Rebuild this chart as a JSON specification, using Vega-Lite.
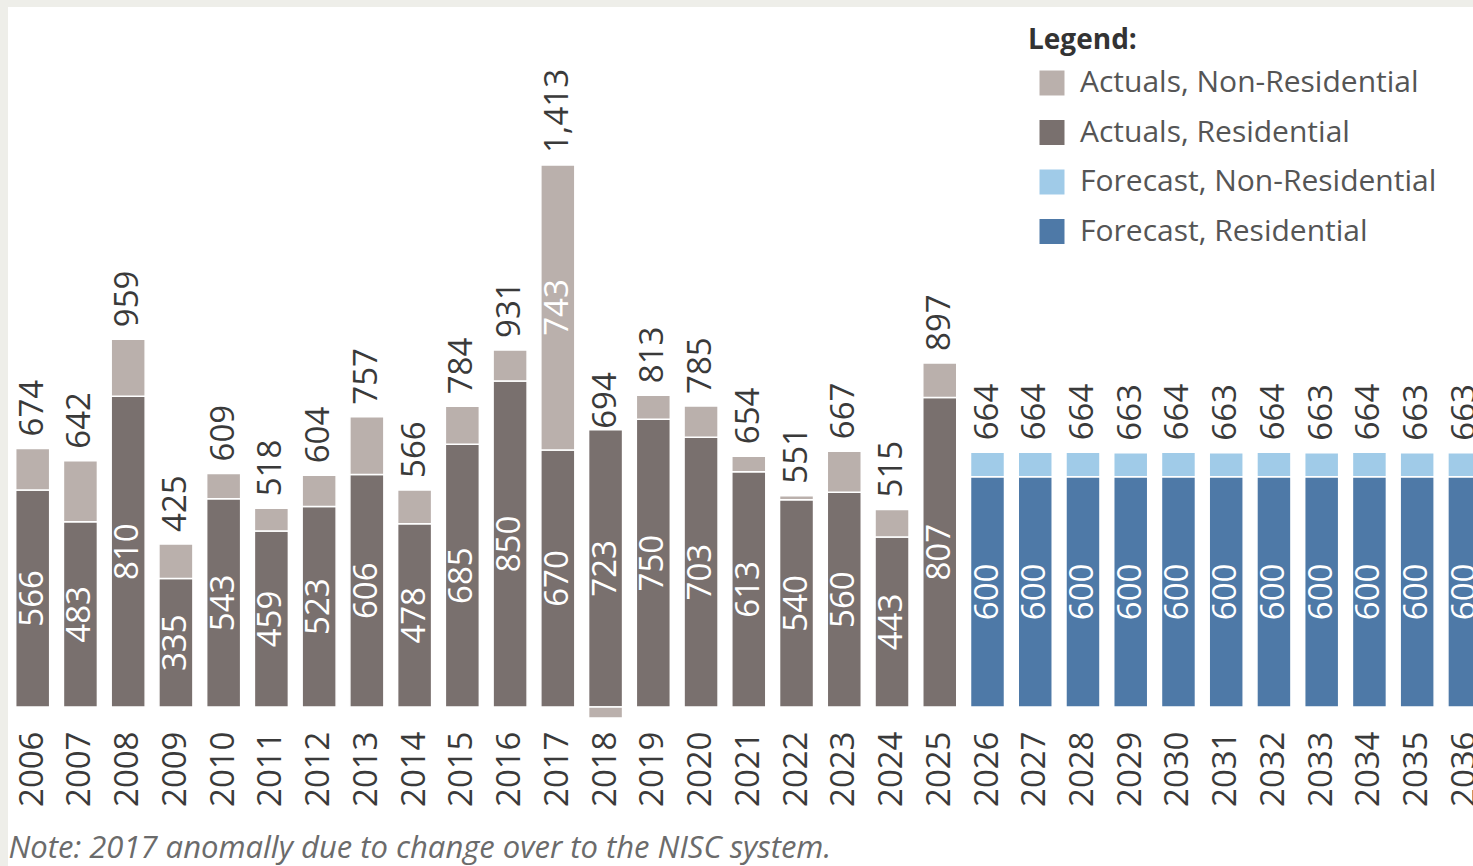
{
  "$schema": "https://vega.github.io/schema/vega-lite/v6.json",
  "autosize": "none",
  "padding": {"left": 8, "top": 7, "right": 0, "bottom": 0},
  "width": 1465,
  "height": 859,
  "background": "#eeeee9",
  "config": {
    "font": "Open Sans",
    "view": {"fill": "white", "stroke": null}
  },
  "data": {
    "values": [
      {"year": "2006", "phase": "Actuals", "part": "Residential", "series": "Actuals, Residential", "value": 566, "total": 674},
      {"year": "2006", "phase": "Actuals", "part": "Non-Residential", "series": "Actuals, Non-Residential", "value": 108, "total": 674},
      {"year": "2007", "phase": "Actuals", "part": "Residential", "series": "Actuals, Residential", "value": 483, "total": 642},
      {"year": "2007", "phase": "Actuals", "part": "Non-Residential", "series": "Actuals, Non-Residential", "value": 159, "total": 642},
      {"year": "2008", "phase": "Actuals", "part": "Residential", "series": "Actuals, Residential", "value": 810, "total": 959},
      {"year": "2008", "phase": "Actuals", "part": "Non-Residential", "series": "Actuals, Non-Residential", "value": 149, "total": 959},
      {"year": "2009", "phase": "Actuals", "part": "Residential", "series": "Actuals, Residential", "value": 335, "total": 425},
      {"year": "2009", "phase": "Actuals", "part": "Non-Residential", "series": "Actuals, Non-Residential", "value": 90, "total": 425},
      {"year": "2010", "phase": "Actuals", "part": "Residential", "series": "Actuals, Residential", "value": 543, "total": 609},
      {"year": "2010", "phase": "Actuals", "part": "Non-Residential", "series": "Actuals, Non-Residential", "value": 66, "total": 609},
      {"year": "2011", "phase": "Actuals", "part": "Residential", "series": "Actuals, Residential", "value": 459, "total": 518},
      {"year": "2011", "phase": "Actuals", "part": "Non-Residential", "series": "Actuals, Non-Residential", "value": 59, "total": 518},
      {"year": "2012", "phase": "Actuals", "part": "Residential", "series": "Actuals, Residential", "value": 523, "total": 604},
      {"year": "2012", "phase": "Actuals", "part": "Non-Residential", "series": "Actuals, Non-Residential", "value": 81, "total": 604},
      {"year": "2013", "phase": "Actuals", "part": "Residential", "series": "Actuals, Residential", "value": 606, "total": 757},
      {"year": "2013", "phase": "Actuals", "part": "Non-Residential", "series": "Actuals, Non-Residential", "value": 151, "total": 757},
      {"year": "2014", "phase": "Actuals", "part": "Residential", "series": "Actuals, Residential", "value": 478, "total": 566},
      {"year": "2014", "phase": "Actuals", "part": "Non-Residential", "series": "Actuals, Non-Residential", "value": 88, "total": 566},
      {"year": "2015", "phase": "Actuals", "part": "Residential", "series": "Actuals, Residential", "value": 685, "total": 784},
      {"year": "2015", "phase": "Actuals", "part": "Non-Residential", "series": "Actuals, Non-Residential", "value": 99, "total": 784},
      {"year": "2016", "phase": "Actuals", "part": "Residential", "series": "Actuals, Residential", "value": 850, "total": 931},
      {"year": "2016", "phase": "Actuals", "part": "Non-Residential", "series": "Actuals, Non-Residential", "value": 81, "total": 931},
      {"year": "2017", "phase": "Actuals", "part": "Residential", "series": "Actuals, Residential", "value": 670, "total": 1413},
      {"year": "2017", "phase": "Actuals", "part": "Non-Residential", "series": "Actuals, Non-Residential", "value": 743, "total": 1413},
      {"year": "2018", "phase": "Actuals", "part": "Residential", "series": "Actuals, Residential", "value": 723, "total": 694},
      {"year": "2018", "phase": "Actuals", "part": "Non-Residential", "series": "Actuals, Non-Residential", "value": -29, "total": 694},
      {"year": "2019", "phase": "Actuals", "part": "Residential", "series": "Actuals, Residential", "value": 750, "total": 813},
      {"year": "2019", "phase": "Actuals", "part": "Non-Residential", "series": "Actuals, Non-Residential", "value": 63, "total": 813},
      {"year": "2020", "phase": "Actuals", "part": "Residential", "series": "Actuals, Residential", "value": 703, "total": 785},
      {"year": "2020", "phase": "Actuals", "part": "Non-Residential", "series": "Actuals, Non-Residential", "value": 82, "total": 785},
      {"year": "2021", "phase": "Actuals", "part": "Residential", "series": "Actuals, Residential", "value": 613, "total": 654},
      {"year": "2021", "phase": "Actuals", "part": "Non-Residential", "series": "Actuals, Non-Residential", "value": 41, "total": 654},
      {"year": "2022", "phase": "Actuals", "part": "Residential", "series": "Actuals, Residential", "value": 540, "total": 551},
      {"year": "2022", "phase": "Actuals", "part": "Non-Residential", "series": "Actuals, Non-Residential", "value": 11, "total": 551},
      {"year": "2023", "phase": "Actuals", "part": "Residential", "series": "Actuals, Residential", "value": 560, "total": 667},
      {"year": "2023", "phase": "Actuals", "part": "Non-Residential", "series": "Actuals, Non-Residential", "value": 107, "total": 667},
      {"year": "2024", "phase": "Actuals", "part": "Residential", "series": "Actuals, Residential", "value": 443, "total": 515},
      {"year": "2024", "phase": "Actuals", "part": "Non-Residential", "series": "Actuals, Non-Residential", "value": 72, "total": 515},
      {"year": "2025", "phase": "Actuals", "part": "Residential", "series": "Actuals, Residential", "value": 807, "total": 897},
      {"year": "2025", "phase": "Actuals", "part": "Non-Residential", "series": "Actuals, Non-Residential", "value": 90, "total": 897},
      {"year": "2026", "phase": "Forecast", "part": "Residential", "series": "Forecast, Residential", "value": 600, "total": 664},
      {"year": "2026", "phase": "Forecast", "part": "Non-Residential", "series": "Forecast, Non-Residential", "value": 64, "total": 664},
      {"year": "2027", "phase": "Forecast", "part": "Residential", "series": "Forecast, Residential", "value": 600, "total": 664},
      {"year": "2027", "phase": "Forecast", "part": "Non-Residential", "series": "Forecast, Non-Residential", "value": 64, "total": 664},
      {"year": "2028", "phase": "Forecast", "part": "Residential", "series": "Forecast, Residential", "value": 600, "total": 664},
      {"year": "2028", "phase": "Forecast", "part": "Non-Residential", "series": "Forecast, Non-Residential", "value": 64, "total": 664},
      {"year": "2029", "phase": "Forecast", "part": "Residential", "series": "Forecast, Residential", "value": 600, "total": 663},
      {"year": "2029", "phase": "Forecast", "part": "Non-Residential", "series": "Forecast, Non-Residential", "value": 63, "total": 663},
      {"year": "2030", "phase": "Forecast", "part": "Residential", "series": "Forecast, Residential", "value": 600, "total": 664},
      {"year": "2030", "phase": "Forecast", "part": "Non-Residential", "series": "Forecast, Non-Residential", "value": 64, "total": 664},
      {"year": "2031", "phase": "Forecast", "part": "Residential", "series": "Forecast, Residential", "value": 600, "total": 663},
      {"year": "2031", "phase": "Forecast", "part": "Non-Residential", "series": "Forecast, Non-Residential", "value": 63, "total": 663},
      {"year": "2032", "phase": "Forecast", "part": "Residential", "series": "Forecast, Residential", "value": 600, "total": 664},
      {"year": "2032", "phase": "Forecast", "part": "Non-Residential", "series": "Forecast, Non-Residential", "value": 64, "total": 664},
      {"year": "2033", "phase": "Forecast", "part": "Residential", "series": "Forecast, Residential", "value": 600, "total": 663},
      {"year": "2033", "phase": "Forecast", "part": "Non-Residential", "series": "Forecast, Non-Residential", "value": 63, "total": 663},
      {"year": "2034", "phase": "Forecast", "part": "Residential", "series": "Forecast, Residential", "value": 600, "total": 664},
      {"year": "2034", "phase": "Forecast", "part": "Non-Residential", "series": "Forecast, Non-Residential", "value": 64, "total": 664},
      {"year": "2035", "phase": "Forecast", "part": "Residential", "series": "Forecast, Residential", "value": 600, "total": 663},
      {"year": "2035", "phase": "Forecast", "part": "Non-Residential", "series": "Forecast, Non-Residential", "value": 63, "total": 663},
      {"year": "2036", "phase": "Forecast", "part": "Residential", "series": "Forecast, Residential", "value": 600, "total": 663},
      {"year": "2036", "phase": "Forecast", "part": "Non-Residential", "series": "Forecast, Non-Residential", "value": 63, "total": 663}
    ]
  },
  "encoding": {
    "x": {
      "field": "year",
      "type": "ordinal",
      "sort": null,
      "scale": {"range": [7.7, 1473.9], "paddingInner": 0.288, "paddingOuter": 0},
      "axis": {
        "orient": "bottom",
        "offset": -138,
        "domain": false,
        "ticks": false,
        "grid": false,
        "labelAngle": -90,
        "labelAlign": "right",
        "labelBaseline": "middle",
        "labelPadding": 3,
        "labelFontSize": 33,
        "labelColor": "#3a3a3a",
        "labelOverlap": false,
        "labelFlush": false,
        "labelBound": false,
        "title": "Note: 2017 anomally due to change over to the NISC system.",
        "titleFontStyle": "italic",
        "titleFontWeight": "normal",
        "titleFontSize": 31,
        "titleColor": "#6b6b6b",
        "titleX": 0,
        "titleY": 129,
        "titleAlign": "left",
        "titleAnchor": "start",
        "titleBaseline": "alphabetic",
        "titleAngle": 0
      }
    }
  },
  "layer": [
    {
      "mark": {"type": "bar", "stroke": "white", "strokeWidth": 1.5},
      "encoding": {
        "y": {
          "field": "value",
          "type": "quantitative",
          "stack": "zero",
          "scale": {"domain": [0, 1413], "range": [700, 158], "nice": false, "zero": true},
          "axis": null
        },
        "order": {"field": "part", "sort": "descending"},
        "color": {
          "field": "series",
          "type": "nominal",
          "scale": {
            "domain": ["Actuals, Non-Residential", "Actuals, Residential", "Forecast, Non-Residential", "Forecast, Residential"],
            "range": ["#bab0ac", "#79706e", "#a0cbe8", "#4e79a7"]
          },
          "legend": {
            "orient": "none",
            "legendX": 1020,
            "legendY": 20,
            "title": "Legend:",
            "titleFontSize": 28,
            "titleFontWeight": "bold",
            "titleColor": "#333333",
            "titlePadding": 13,
            "symbolType": "square",
            "symbolSize": 625,
            "symbolStrokeWidth": 0,
            "symbolOpacity": 1,
            "symbolOffset": 9,
            "labelFontSize": 30,
            "labelColor": "#555555",
            "labelOffset": 13,
            "rowPadding": 19.5,
            "labelLimit": 500
          }
        }
      }
    },
    {
      "mark": {"type": "text", "angle": -90, "align": "center", "baseline": "middle", "fontSize": 33, "color": "white"},
      "encoding": {
        "y": {
          "field": "value",
          "type": "quantitative",
          "stack": "zero",
          "bandPosition": 0.5,
          "scale": {"domain": [0, 1413], "range": [700, 158], "nice": false, "zero": true}
        },
        "order": {"field": "part", "sort": "descending"},
        "text": {
          "condition": {"test": "datum.part === 'Residential' || datum.year === '2017'", "field": "value", "type": "quantitative", "format": ","},
          "value": ""
        }
      }
    },
    {
      "transform": [{"filter": "datum.part === 'Residential'"}],
      "mark": {"type": "text", "angle": -90, "align": "left", "baseline": "middle", "fontSize": 33, "dx": 12, "color": "#3a3a3a"},
      "encoding": {
        "y": {
          "field": "total",
          "type": "quantitative",
          "stack": null,
          "scale": {"domain": [0, 1413], "range": [700, 158], "nice": false, "zero": true}
        },
        "text": {"field": "total", "type": "quantitative", "format": ","}
      }
    }
  ]
}
